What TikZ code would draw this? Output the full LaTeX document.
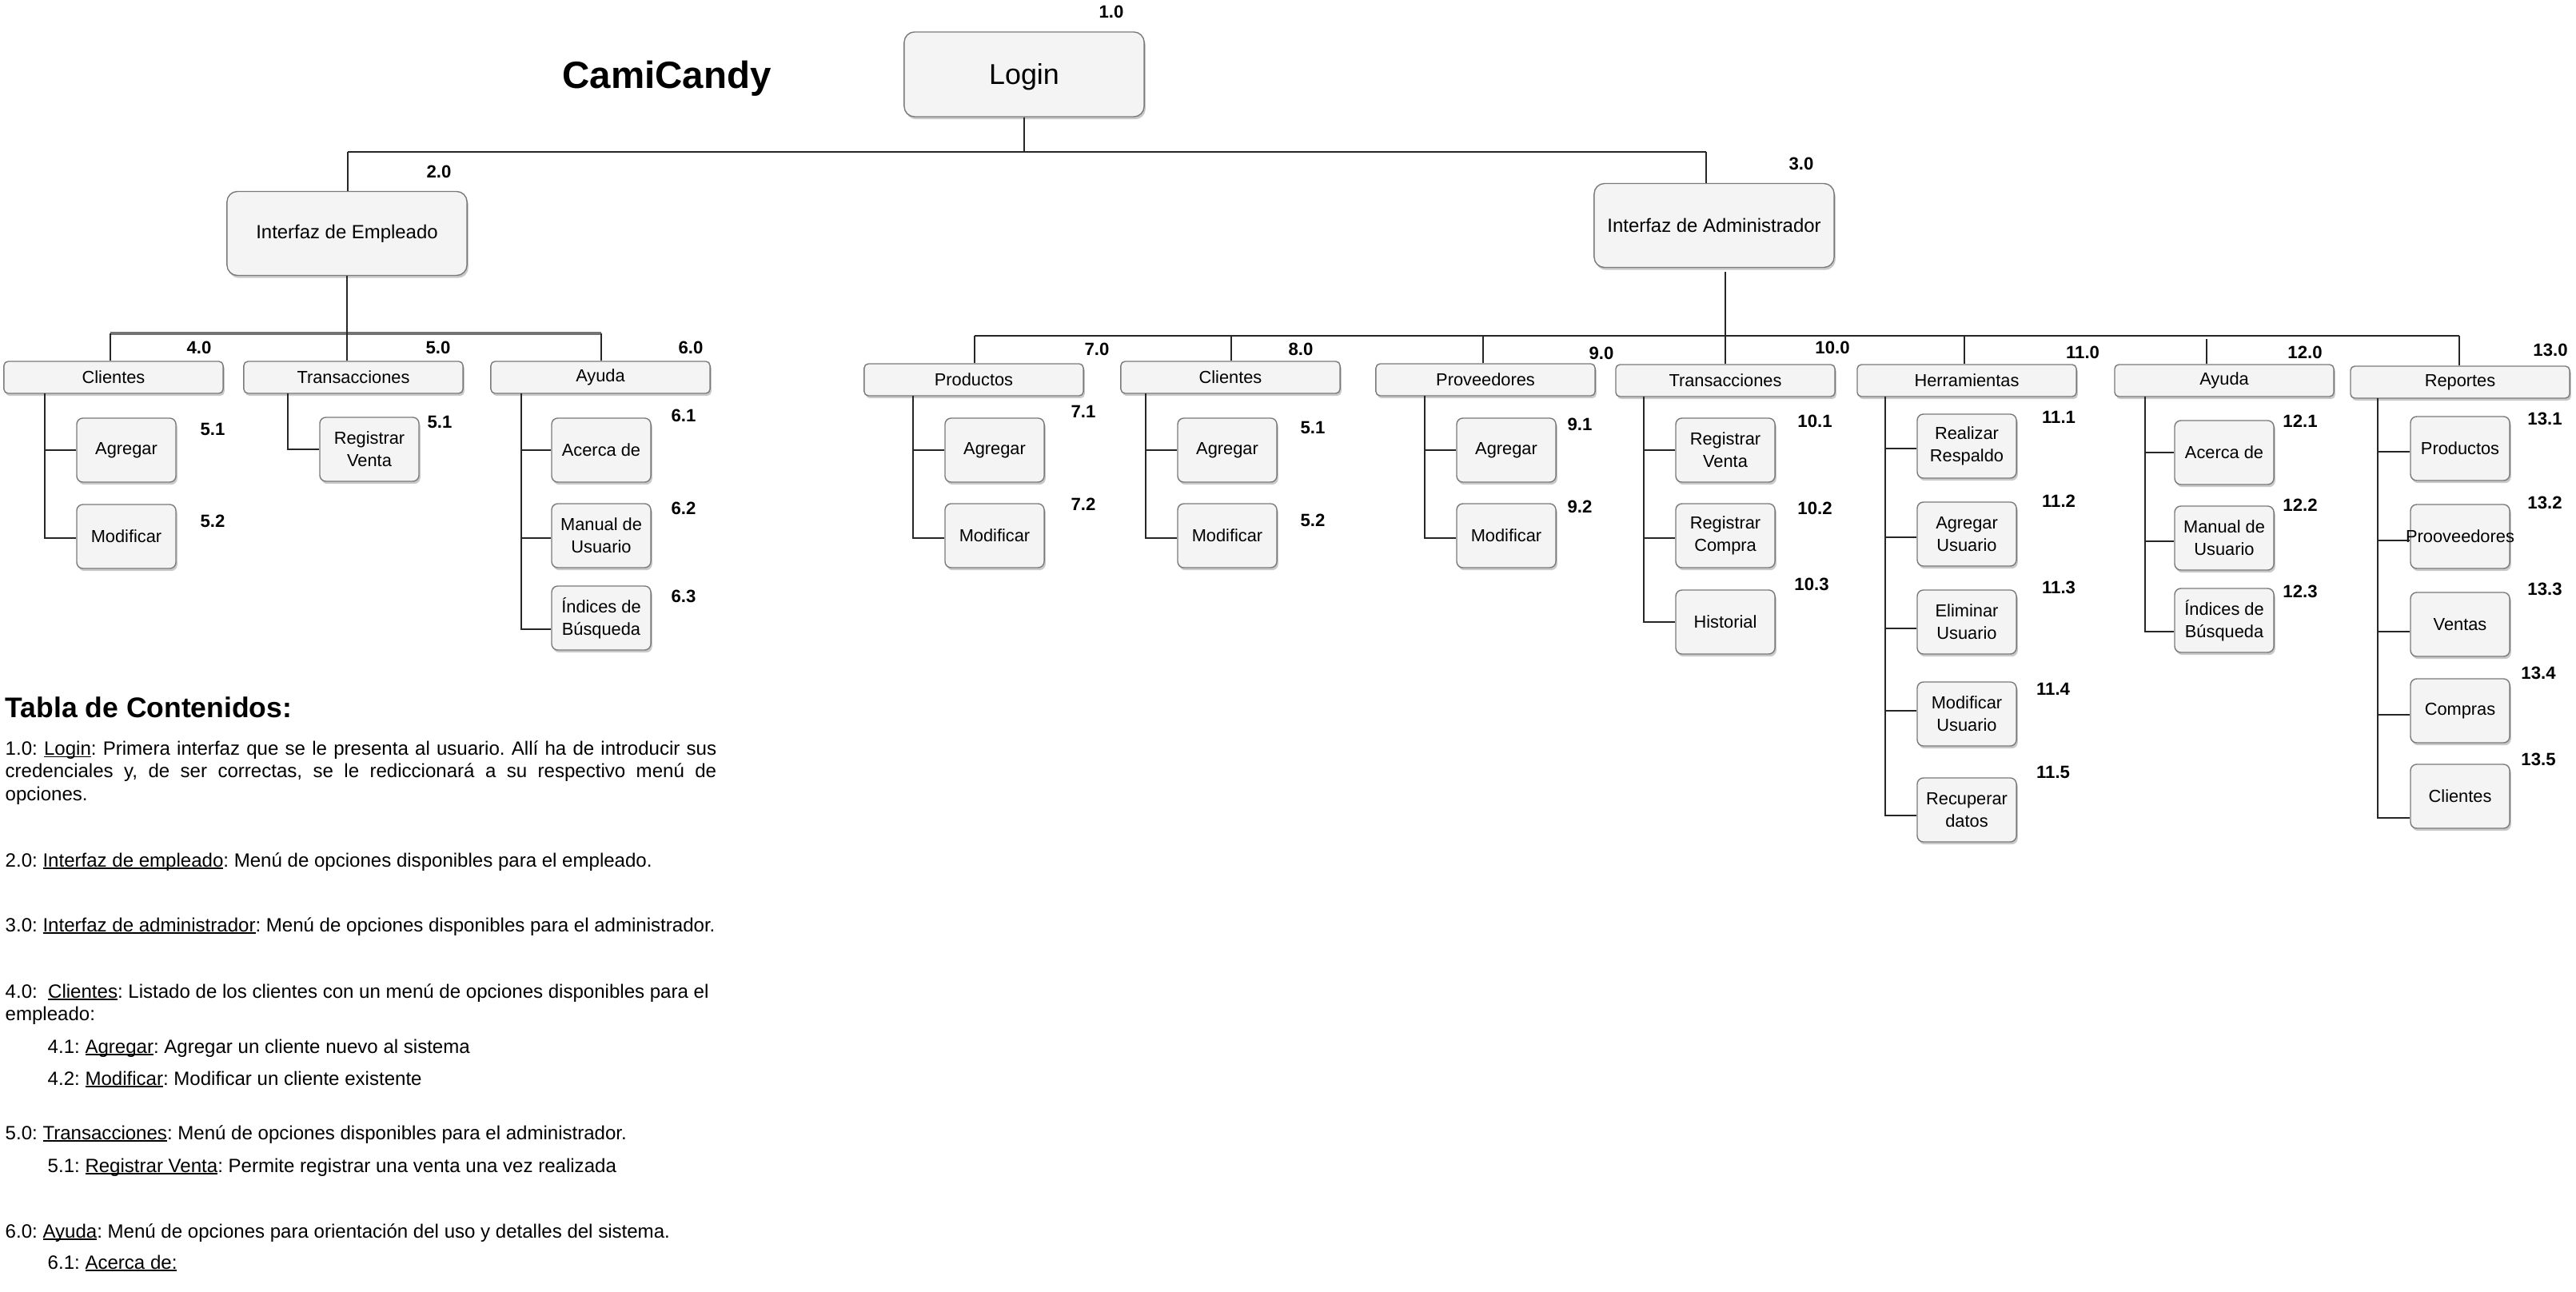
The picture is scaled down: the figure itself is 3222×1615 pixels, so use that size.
\documentclass[tikz,border=0pt]{standalone}
\usepackage{fontspec}
\setmainfont{Liberation Sans}
\usetikzlibrary{shadows}
\definecolor{boxfill}{HTML}{F4F4F4}
\definecolor{boxline}{HTML}{7A7A7A}
\newcommand\cn[3]{\draw[conn] (#1) |- ([yshift=#3]#2.west);}
\newcommand\uln[1]{\setbox0\hbox{#1}\rlap{\rule[-0.8pt]{\wd0}{0.4pt}}\box0}
\frenchspacing
\begin{document}
\begin{tikzpicture}[x=0.01cm,y=-0.01cm,
  base/.style={draw=boxline, fill=boxfill, line width=0.4pt, align=center, inner sep=0pt,
    drop shadow={shadow xshift=0.5pt, shadow yshift=-0.9pt, opacity=0.3, fill=black!70}},
  bigbox/.style={base, rounded corners=3.7pt, minimum width=3cm, minimum height=1.05cm, font=\fontsize{6.8}{8.2}\selectfont},
  menubox/.style={base, rounded corners=1.5pt, minimum width=2.74cm, minimum height=0.4cm, font=\fontsize{6.2}{7.8}\selectfont},
  leaf/.style={base, rounded corners=2.2pt, minimum width=1.24cm, minimum height=0.8cm, font=\fontsize{6.2}{7.9}\selectfont},
  num/.style={font=\bfseries\fontsize{6.3}{7.5}\selectfont, inner sep=0pt},
  conn/.style={draw=black!85, line width=0.5pt},
  bar/.style={draw=black!55, line width=0.9pt},
  toc/.style={anchor=base west, inner sep=0pt, font=\fontsize{6.84}{8.1}\selectfont}]
\useasboundingbox (0,0) rectangle (3222,1615);

% ---------- title and top level
\node[anchor=base, inner sep=0pt, font=\bfseries\fontsize{13.5}{16}\selectfont] (title) at (834,110) {CamiCandy};
\node[bigbox, minimum height=1.06cm, text depth=0pt, font=\fontsize{10.2}{12}\selectfont] (login) at (1281,93) {Login};
\node[num] (n1) at (1390,15) {1.0};
\node[bigbox] (emp) at (434,292) {Interfaz de Empleado};
\node[num] (n2) at (549,215) {2.0};
\node[bigbox] (adm) at (2144,282) {Interfaz de Administrador};
\node[num] (n3) at (2253,205) {3.0};

% ---------- employee menus
\node[menubox] (cli4) at (142,472) {Clientes};
\node[num] (n40) at (249,435) {4.0};
\node[menubox] (tra5) at (442,472) {Transacciones};
\node[num] (n50) at (548,435) {5.0};
\node[menubox] (ayu6) at (751,472) {Ayuda};
\node[num] (n60) at (864,435) {6.0};

\node[leaf] (agr4) at (158,563) {Agregar};
\node[num] (n41) at (266,537) {5.1};
\node[leaf] (mod4) at (158,671) {Modificar};
\node[num] (n42) at (266,652) {5.2};
\node[leaf] (rv5) at (462,562) {Registrar\\Venta};
\node[num] (n51) at (550,528) {5.1};
\node[leaf] (ac6) at (752,563) {Acerca de};
\node[num] (n61) at (855,520) {6.1};
\node[leaf] (man6) at (752,670) {Manual de\\Usuario};
\node[num] (n62) at (855,636) {6.2};
\node[leaf] (ind6) at (752,773) {Índices de\\Búsqueda};
\node[num] (n63) at (855,746) {6.3};

% ---------- administrator menus
\node[menubox] (pro7) at (1218,475) {Productos};
\node[num] (n70) at (1372,437) {7.0};
\node[menubox] (cli8) at (1539,472) {Clientes};
\node[num] (n80) at (1627,437) {8.0};
\node[menubox] (prv9) at (1858,475) {Proveedores};
\node[num] (n90) at (2003,442) {9.0};
\node[menubox] (tra10) at (2158,476) {Transacciones};
\node[num] (n100) at (2292,435) {10.0};
\node[menubox] (her11) at (2460,476) {Herramientas};
\node[num] (n110) at (2605,441) {11.0};
\node[menubox] (ayu12) at (2782,476) {Ayuda};
\node[num] (n120) at (2883,441) {12.0};
\node[menubox] (rep13) at (3077,478) {Reportes};
\node[num] (n130) at (3190,438) {13.0};

\node[leaf] (agr7) at (1244,563) {Agregar};
\node[num] (n71) at (1355,515) {7.1};
\node[leaf] (mod7) at (1244,670) {Modificar};
\node[num] (n72) at (1355,631) {7.2};

\node[leaf] (agr8) at (1535,563) {Agregar};
\node[num] (n81) at (1642,535) {5.1};
\node[leaf] (mod8) at (1535,670) {Modificar};
\node[num] (n82) at (1642,651) {5.2};

\node[leaf] (agr9) at (1884,563) {Agregar};
\node[num] (n91) at (1976,531) {9.1};
\node[leaf] (mod9) at (1884,670) {Modificar};
\node[num] (n92) at (1976,634) {9.2};

\node[leaf] (rv10) at (2158,563) {Registrar\\Venta};
\node[num] (n101) at (2270,527) {10.1};
\node[leaf] (rc10) at (2158,670) {Registrar\\Compra};
\node[num] (n102) at (2270,636) {10.2};
\node[leaf] (his10) at (2158,778) {Historial};
\node[num] (n103) at (2266,731) {10.3};

\node[leaf] (rr11) at (2460,558) {Realizar\\Respaldo};
\node[num] (n111) at (2575,522) {11.1};
\node[leaf] (au11) at (2460,668) {Agregar\\Usuario};
\node[num] (n112) at (2575,627) {11.2};
\node[leaf] (eu11) at (2460,778) {Eliminar\\Usuario};
\node[num] (n113) at (2575,735) {11.3};
\node[leaf] (mu11) at (2460,893) {Modificar\\Usuario};
\node[num] (n114) at (2568,862) {11.4};
\node[leaf] (rd11) at (2460,1013) {Recuperar\\datos};
\node[num] (n115) at (2568,966) {11.5};

\node[leaf] (ac12) at (2782,566) {Acerca de};
\node[num] (n121) at (2877,527) {12.1};
\node[leaf] (man12) at (2782,673) {Manual de\\Usuario};
\node[num] (n122) at (2877,632) {12.2};
\node[leaf] (ind12) at (2782,776) {Índices de\\Búsqueda};
\node[num] (n123) at (2877,740) {12.3};

\node[leaf] (p13) at (3077,561) {Productos};
\node[num] (n131) at (3183,524) {13.1};
\node[leaf] (pv13) at (3077,671) {\makebox[0pt]{Prooveedores}};
\node[num] (n132) at (3183,629) {13.2};
\node[leaf] (v13) at (3077,781) {Ventas};
\node[num] (n133) at (3183,737) {13.3};
\node[leaf] (c13) at (3077,889) {Compras};
\node[num] (n134) at (3175,842) {13.4};
\node[leaf] (cl13) at (3077,996) {Clientes};
\node[num] (n135) at (3175,950) {13.5};

% ---------- connectors: top level
\coordinate (jL) at (1281,190);
\coordinate (jE) at (435,190);
\coordinate (jA) at (2134,190);
\draw[conn] (login.south) -- (jL);
\draw[conn] (jE) -- (jA);
\draw[conn] (jE) -- (jE |- emp.north);
\draw[conn] (jA) -- (jA |- adm.north);

% employee
\coordinate (eL) at (138,417);
\coordinate (eR) at (752,417);
\draw[bar] (eL) -- (eR);
\draw[conn] (eL) -- (eL |- cli4.north);
\draw[conn] (eR) -- (eR |- ayu6.north);
\draw[conn] (emp.south) -- (emp.south |- tra5.north);

% administrator
\coordinate (aL) at (1219,420);
\coordinate (aR) at (3076,420);
\coordinate (a8) at (1540,420);
\coordinate (a9) at (1855,420);
\coordinate (a11) at (2457,420);
\coordinate (a12) at (2760,424);
\draw[conn] (aL) -- (aR);
\draw[conn] (aL) -- (aL |- pro7.north);
\draw[conn] (a8) -- (a8 |- cli8.north);
\draw[conn] (a9) -- (a9 |- prv9.north);
\draw[conn] (a11) -- (a11 |- her11.north);
\draw[conn] (a12) -- (a12 |- ayu12.north);
\draw[conn] (aR) -- (aR |- rep13.north);
\draw[conn] ([yshift=-0.05cm]tra10.north |- adm.south) -- (tra10.north);

% trunks
\coordinate (k4) at (56,492);
\coordinate (k5) at (360,492);
\coordinate (k6) at (652,492);
\coordinate (k7) at (1142,495);
\coordinate (k8) at (1433,492);
\coordinate (k9) at (1782,495);
\coordinate (k10) at (2056,496);
\coordinate (k11) at (2358,496);
\coordinate (k12) at (2683,496);
\coordinate (k13) at (2974,498);

\cn{k4}{agr4}{0cm}
\cn{k4}{mod4}{-0.02cm}
\cn{k5}{rv5}{0cm}
\cn{k6}{ac6}{0cm}
\cn{k6}{man6}{-0.03cm}
\cn{k6}{ind6}{-0.14cm}
\cn{k7}{agr7}{0cm}
\cn{k7}{mod7}{-0.03cm}
\cn{k8}{agr8}{0cm}
\cn{k8}{mod8}{-0.03cm}
\cn{k9}{agr9}{0cm}
\cn{k9}{mod9}{-0.03cm}
\cn{k10}{rv10}{0cm}
\cn{k10}{rc10}{-0.03cm}
\cn{k10}{his10}{0cm}
\cn{k11}{rr11}{-0.03cm}
\cn{k11}{au11}{-0.04cm}
\cn{k11}{eu11}{-0.08cm}
\cn{k11}{mu11}{0.04cm}
\cn{k11}{rd11}{-0.07cm}
\cn{k12}{ac12}{0cm}
\cn{k12}{man12}{-0.04cm}
\cn{k12}{ind12}{-0.14cm}
\cn{k13}{p13}{-0.04cm}
\cn{k13}{pv13}{-0.05cm}
\cn{k13}{v13}{-0.09cm}
\cn{k13}{c13}{-0.05cm}
\cn{k13}{cl13}{-0.27cm}

% ---------- table of contents
\node[toc, font=\bfseries\fontsize{10.1}{12}\selectfont] (t0) at (6,897) {Tabla de Contenidos:};
\node[toc, anchor=north west, text width=8.89cm, align=justify, font=\fontsize{6.84}{8.1}\selectfont] (t1) at (6,926)
  {1.0: \uln{Login}: Primera interfaz que se le presenta al usuario. Allí ha de introducir sus\linebreak
   credenciales y, de ser correctas, se le rediccionará a su respectivo menú de\linebreak
   opciones.};
\node[toc] (t4) at (6,1084) {2.0: \uln{Interfaz de empleado}: Menú de opciones disponibles para el empleado.};
\node[toc] (t5) at (6,1165) {3.0: \uln{Interfaz de administrador}: Menú de opciones disponibles para el administrador.};
\node[toc] (t6) at (6,1248) {4.0:\ \ \uln{Clientes}: Listado de los clientes con un menú de opciones disponibles para el};
\node[toc] (t7) at (6,1276) {empleado:};
\node[toc] (t8) at (59,1317) {4.1: \uln{Agregar}: Agregar un cliente nuevo al sistema};
\node[toc] (t9) at (59,1357) {4.2: \uln{Modificar}: Modificar un cliente existente};
\node[toc] (t10) at (6,1425) {5.0: \uln{Transacciones}: Menú de opciones disponibles para el administrador.};
\node[toc] (t11) at (59,1466) {5.1: \uln{Registrar Venta}: Permite registrar una venta una vez realizada};
\node[toc] (t12) at (6,1548) {6.0: \uln{Ayuda}: Menú de opciones para orientación del uso y detalles del sistema.};
\node[toc] (t13) at (59,1587) {6.1: \uln{Acerca de:}};
\end{tikzpicture}
\end{document}
